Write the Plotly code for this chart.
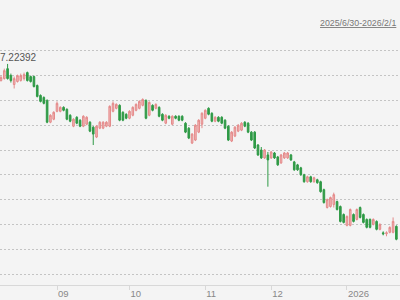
import pandas as pd
import plotly.graph_objects as go

# Daily candles (visible window), first candle on 2025-08-07, business days only
open_ = [7.1904, 7.1944, 7.2144, 7.2004, 7.1824, 7.1884, 7.1904, 7.1944, 7.2064, 7.1984,
         7.1984, 7.1804, 7.1604, 7.1564, 7.1504, 7.1064, 7.1124, 7.1284, 7.1284, 7.1364,
         7.1324, 7.1204, 7.0984, 7.1164, 7.1104, 7.0984, 7.1024, 7.1064, 7.0964, 7.0764,
         7.0944, 7.0944, 7.0984, 7.0984, 7.1284, 7.1344, 7.1404, 7.1264, 7.1224, 7.1144,
         7.1204, 7.1304, 7.1344, 7.1404, 7.1504, 7.1204, 7.1404, 7.1344, 7.1364, 7.1224,
         7.1044, 7.1184, 7.1024, 7.1184, 7.1184, 7.1184, 7.1044, 7.0944, 7.0644, 7.0704,
         7.0864, 7.1024, 7.1144, 7.1344, 7.1244, 7.1084, 7.1164, 7.1164, 7.1104, 7.0984,
         7.0684, 7.0784, 7.0884, 7.0904, 7.1064, 7.1044, 7.0864, 7.0864, 7.0604, 7.0504,
         7.0344, 7.0404, 7.0344, 7.0444, 7.0364, 7.0244, 7.0344, 7.0344, 7.0404, 7.0264,
         7.0204, 7.0144, 7.0004, 6.9864, 6.9964, 6.9864, 6.9904, 6.9864, 6.9704, 6.9344,
         6.9364, 6.9404, 6.9464, 6.9364, 6.9204, 6.8984, 6.8984, 6.9204, 6.9104, 6.9344,
         6.9204, 6.9104, 6.9104, 6.9004, 6.9064, 6.8904, 6.8834, 6.8814, 6.8844, 6.8844,
         6.8964]
high = [7.2004, 7.2144, 7.22392, 7.2044, 7.1984, 7.2024, 7.2044, 7.2064, 7.2084, 7.2004,
        7.2004, 7.1824, 7.1624, 7.1584, 7.1524, 7.1224, 7.1284, 7.1484, 7.1384, 7.1384,
        7.1344, 7.1224, 7.1144, 7.1184, 7.1124, 7.1204, 7.1184, 7.1084, 7.0984, 7.1004,
        7.1084, 7.1084, 7.1084, 7.1404, 7.1484, 7.1444, 7.1424, 7.1284, 7.1244, 7.1304,
        7.1384, 7.1444, 7.1504, 7.1544, 7.1524, 7.1484, 7.1424, 7.1444, 7.1384, 7.1244,
        7.1224, 7.1204, 7.1204, 7.1204, 7.1204, 7.1204, 7.1064, 7.0964, 7.0844, 7.1024,
        7.1124, 7.1264, 7.1324, 7.1364, 7.1264, 7.1184, 7.1184, 7.1184, 7.1124, 7.1004,
        7.0884, 7.0984, 7.1024, 7.1064, 7.1084, 7.1064, 7.0884, 7.0884, 7.0624, 7.0564,
        7.0524, 7.0464, 7.0484, 7.0464, 7.0384, 7.0424, 7.0464, 7.0464, 7.0424, 7.0284,
        7.0224, 7.0164, 7.0024, 6.9984, 6.9984, 6.9964, 6.9924, 6.9884, 6.9724, 6.9524,
        6.9564, 6.9644, 6.9484, 6.9384, 6.9224, 6.9184, 6.9324, 6.9224, 6.9324, 6.9364,
        6.9224, 6.9124, 6.9124, 6.9124, 6.9084, 6.9024, 6.8864, 6.8864, 6.8964, 6.9144,
        6.8984]
low = [7.1884, 7.1924, 7.1924, 7.1864, 7.1744, 7.1864, 7.1884, 7.1904, 7.1884, 7.1864,
       7.1764, 7.1564, 7.1464, 7.1424, 7.1044, 7.1044, 7.1104, 7.1264, 7.1264, 7.1284,
       7.1104, 7.1064, 7.0964, 7.1024, 7.0964, 7.0964, 7.1004, 7.0864, 7.0604, 7.0744,
       7.0924, 7.0924, 7.0964, 7.0964, 7.1264, 7.1324, 7.1084, 7.1084, 7.1124, 7.1124,
       7.1184, 7.1284, 7.1324, 7.1384, 7.1124, 7.1184, 7.1284, 7.1324, 7.1164, 7.1084,
       7.1024, 7.1124, 7.1004, 7.1124, 7.1084, 7.1084, 7.0844, 7.0724, 7.0624, 7.0684,
       7.0844, 7.0944, 7.1124, 7.1204, 7.1064, 7.1064, 7.1064, 7.1024, 7.0924, 7.0684,
       7.0664, 7.0764, 7.0864, 7.0884, 7.0964, 7.0844, 7.0684, 7.0524, 7.0384, 7.0324,
       7.0324, 6.9764, 7.0324, 7.0324, 7.0184, 7.0224, 7.0324, 7.0324, 7.0284, 7.0084,
       7.0084, 6.9984, 6.9844, 6.9844, 6.9844, 6.9844, 6.9824, 6.9644, 6.9424, 6.9324,
       6.9344, 6.9344, 6.9284, 6.9044, 6.9024, 6.8964, 6.8964, 6.9044, 6.9084, 6.9124,
       6.9024, 6.8924, 6.8924, 6.8984, 6.8884, 6.8884, 6.8784, 6.8764, 6.8824, 6.8824,
       6.8684]
close = [7.1964, 7.2104, 7.1944, 7.1904, 7.1944, 7.2004, 7.2004, 7.2024, 7.1904, 7.1884,
         7.1784, 7.1584, 7.1484, 7.1444, 7.1064, 7.1204, 7.1264, 7.1444, 7.1364, 7.1304,
         7.1124, 7.1084, 7.1124, 7.1044, 7.0984, 7.1184, 7.1164, 7.0884, 7.0824, 7.0984,
         7.1064, 7.1064, 7.1064, 7.1384, 7.1444, 7.1424, 7.1104, 7.1104, 7.1144, 7.1284,
         7.1364, 7.1424, 7.1484, 7.1524, 7.1144, 7.1464, 7.1304, 7.1424, 7.1184, 7.1104,
         7.1204, 7.1144, 7.1184, 7.1144, 7.1104, 7.1104, 7.0864, 7.0744, 7.0824, 7.1004,
         7.1104, 7.1244, 7.1304, 7.1224, 7.1084, 7.1164, 7.1084, 7.1044, 7.0944, 7.0704,
         7.0864, 7.0964, 7.1004, 7.1044, 7.0984, 7.0864, 7.0704, 7.0544, 7.0404, 7.0344,
         7.0504, 7.0304, 7.0464, 7.0344, 7.0204, 7.0404, 7.0444, 7.0444, 7.0304, 7.0104,
         7.0104, 7.0004, 6.9864, 6.9964, 6.9864, 6.9944, 6.9844, 6.9664, 6.9444, 6.9504,
         6.9544, 6.9604, 6.9304, 6.9064, 6.9044, 6.9164, 6.9304, 6.9064, 6.9304, 6.9144,
         6.9044, 6.8944, 6.8944, 6.9104, 6.8904, 6.9004, 6.8814, 6.8834, 6.8944, 6.9064,
         6.8704]

first_day = "2025-08-07"
max_label = "7.22392"
range_label = "2025/6/30-2026/2/1"
tick_dates = ["2025-09-01", "2025-10-01", "2025-11-03", "2025-12-01", "2026-01-01"]
tick_text = ["09", "10", "11", "12", "2026"]
grid_levels = [6.80, 6.85, 6.90, 6.95, 7.00, 7.05, 7.10, 7.15, 7.20, 7.25]

dates = pd.bdate_range(first_day, periods=len(open_))

fig = go.Figure(go.Candlestick(
    x=dates, open=open_, high=high, low=low, close=close,
    increasing=dict(line=dict(color="#e48a8a", width=1), fillcolor="#f2b5b5"),
    decreasing=dict(line=dict(color="#2f9a46", width=1), fillcolor="#2f9a46"),
    whiskerwidth=0, hoverinfo="skip",
))

fig.update_layout(
    width=400, height=300,
    margin=dict(l=0, r=0, t=0, b=15),
    paper_bgcolor="#f4f4f4", plot_bgcolor="#f4f4f4",
    showlegend=False,
    font=dict(family="Liberation Sans, Arial, sans-serif", size=9.5, color="#888"),
    xaxis=dict(
        type="date",
        rangebreaks=[dict(bounds=["sat", "mon"])],
        range=["2025-08-06 16:48", "2026-01-23 02:24"],
        rangeslider=dict(visible=False),
        tickvals=tick_dates, ticktext=tick_text,
        ticklabelposition="outside right",
        ticks="outside", ticklen=4, tickcolor="#d8d8d8",
        showgrid=False, zeroline=False,
        showline=True, linecolor="#d8d8d8", linewidth=1,
        tickfont=dict(size=9.5, color="#888"),
    ),
    yaxis=dict(
        range=[6.7782, 7.3528],
        tickvals=grid_levels, showticklabels=False,
        showgrid=True, gridcolor="#c4c4c4", griddash="2px,2px", gridwidth=1,
        zeroline=False, showline=False, fixedrange=True,
    ),
    annotations=[
        dict(text=max_label, xref="paper", yref="y", x=-0.006, y=7.2365,
             xanchor="left", yanchor="middle", showarrow=False,
             font=dict(size=10, color="#555")),
        dict(text="<u>" + range_label + "</u>", xref="paper", yref="paper",
             x=0.995, y=0.92, xanchor="right", yanchor="middle", showarrow=False,
             font=dict(size=8.8, color="#777")),
    ],
)

fig.write_html("out.html", config={"displayModeBar": False})
